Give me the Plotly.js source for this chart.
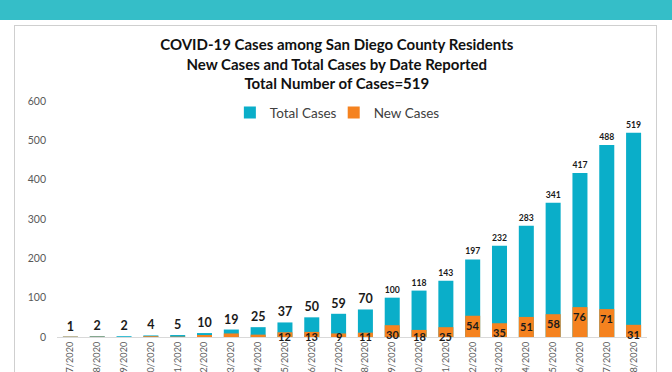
<!DOCTYPE html>
<html><head><meta charset="utf-8">
<script src="https://cdn.plot.ly/plotly-3.0.1.min.js"></script>
<style>
html,body{margin:0;padding:0;background:#fff;width:672px;height:372px;overflow:hidden;}
#hdr{position:absolute;left:0;top:0;width:672px;height:20px;background:#35BEC8;}
#box{position:absolute;left:14px;top:25px;width:641px;height:360px;border:1px solid #CFCFCF;overflow:hidden;background:#fff;}
#chart{position:absolute;left:0;top:0;width:641px;height:400px;}
</style></head>
<body>
<div id="hdr"></div>
<div id="box"><div id="chart"></div></div>
<script>
const dates = ["3/7/2020","3/8/2020","3/9/2020","3/10/2020","3/11/2020","3/12/2020","3/13/2020","3/14/2020","3/15/2020","3/16/2020","3/17/2020","3/18/2020","3/19/2020","3/20/2020","3/21/2020","3/22/2020","3/23/2020","3/24/2020","3/25/2020","3/26/2020","3/27/2020","3/28/2020"];
const totalCases = [1,2,2,4,5,10,19,25,37,50,59,70,100,118,143,197,232,283,341,417,488,519];
const newCases = [1,1,0,2,1,5,9,6,12,13,9,11,30,18,25,54,35,51,58,76,71,31];
const newCaseLabelsShownFrom = 8;

const FONT = 'Lato, Carlito, sans-serif';
// inside-end labels: text hangs from bar top, but never below the axis line
const LABEL_FLOOR = 25;

const traces = [
  {type:'bar', name:'Total Cases', x:dates, y:totalCases, legend:'legend',
   marker:{color:'#0AAEC9'}, text:totalCases.map(String), textposition:'outside', textangle:0,
   textfont:{family:FONT, size:12.5, color:'#1a1a1a', weight:'bold'},
   cliponaxis:false, hoverinfo:'skip'},
  {type:'bar', name:'New Cases', x:dates, y:newCases, legend:'legend2',
   marker:{color:'#F5821F'}, hoverinfo:'skip'}
];

const annotations = newCases.map((v,i)=> i>=newCaseLabelsShownFrom ? {
  x:dates[i], y:Math.max(v, LABEL_FLOOR), xref:'x', yref:'y',
  text:'<b>'+v+'</b>', showarrow:false, yanchor:'top', xanchor:'center', yshift:-1,
  font:{family:FONT, size:11, color:'#1a1a1a'}
} : null).filter(a=>a);

const legendBase = {orientation:'h', xanchor:'left', y:0.95, yanchor:'middle',
  font:{family:FONT, size:13.5, color:'#404040'}, bgcolor:'rgba(0,0,0,0)', itemwidth:30};

const layout = {
  width:641, height:400,
  margin:{l:42, r:9, t:75, b:89},
  paper_bgcolor:'#fff', plot_bgcolor:'#fff',
  barmode:'overlay', bargap:0.44,
  showlegend:true,
  annotations:annotations,
  legend:Object.assign({}, legendBase, {x:0.293}),
  legend2:Object.assign({}, legendBase, {x:0.469}),
  title:{text:'<b>COVID-19 Cases among San Diego County Residents<br>New Cases and Total Cases by Date Reported<br>Total Number of Cases=519</b>',
    x:0.502, xanchor:'center', xref:'container', y:0.94, yanchor:'top', yref:'container',
    font:{family:FONT, size:15, color:'#111'}},
  xaxis:{type:'category', tickangle:-90, showgrid:false, zeroline:false,
    showline:true, linecolor:'#D9D9D9', linewidth:1, ticks:'',
    tickfont:{family:FONT, size:9.2, color:'#595959'}},
  yaxis:{range:[0,600], dtick:100, showgrid:false, zeroline:false, showline:false, ticks:'',
    ticklabelstandoff:10,
    tickfont:{family:FONT, size:10.5, color:'#595959'}}
};
Plotly.newPlot('chart', traces, layout, {displayModeBar:false, staticPlot:true});
</script>
</body></html>
